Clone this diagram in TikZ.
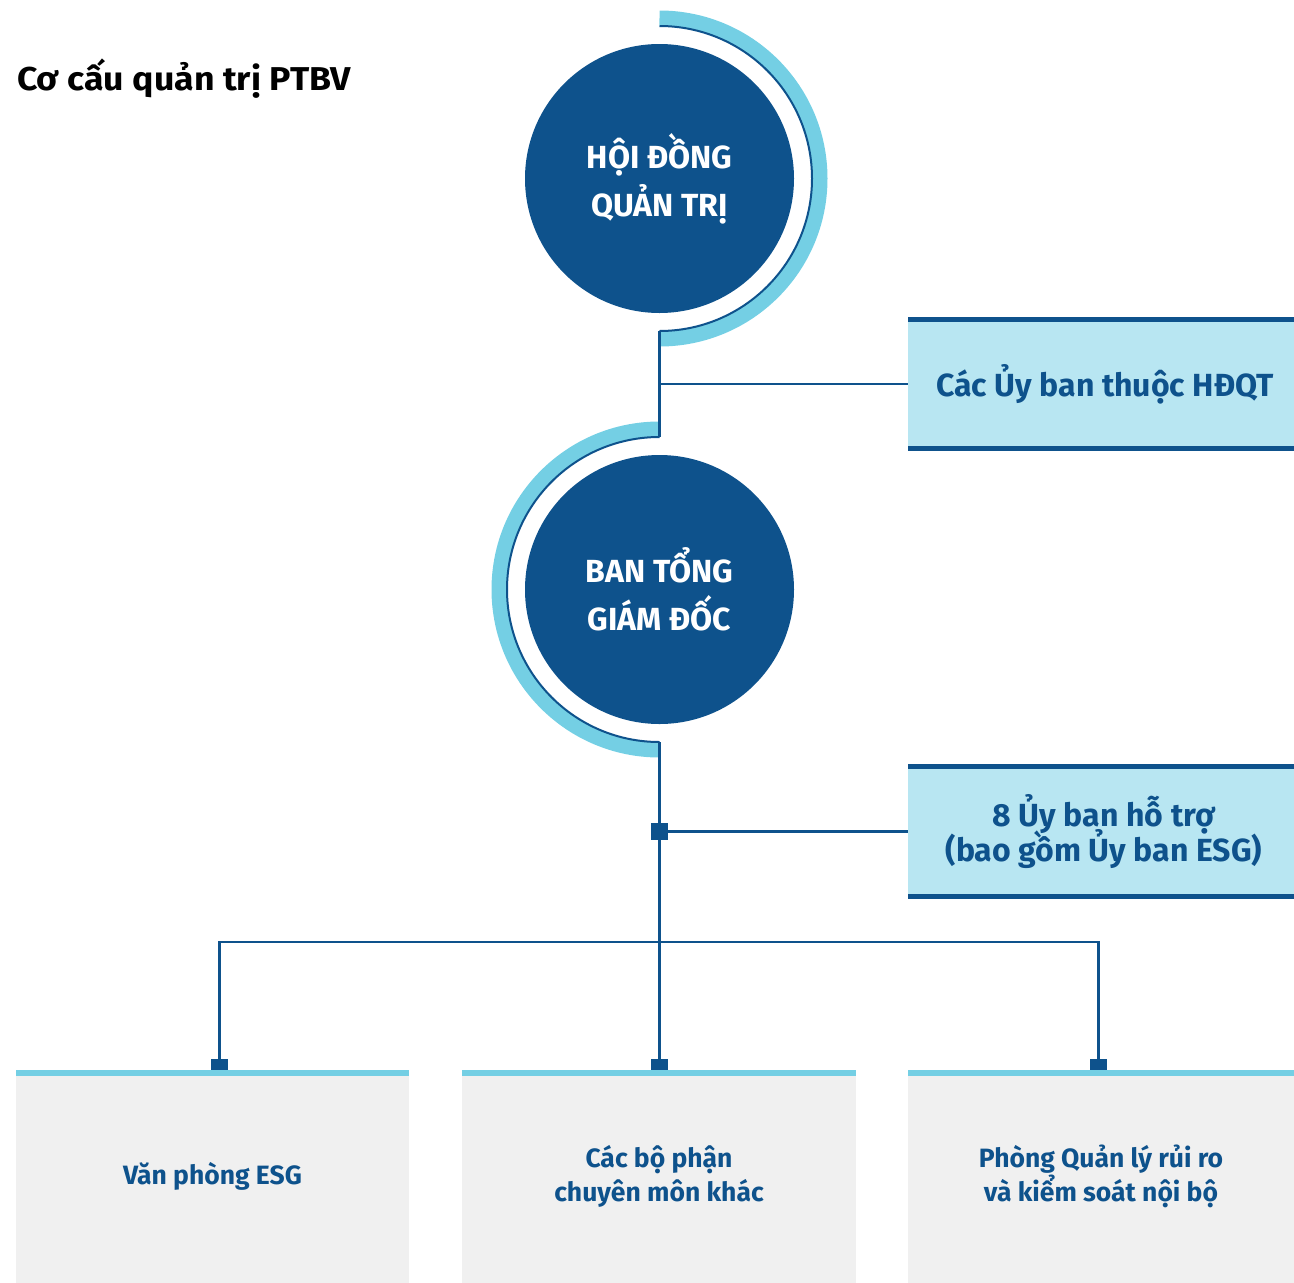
\documentclass[tikz,border=0pt]{standalone}
\usepackage{fontspec}
\usetikzlibrary{calc}
\setmainfont{Fira Sans}
\newfontfamily\condfont[FakeStretch=1.0]{Fira Sans}
\newfontfamily\titlefont[FakeStretch=1.08]{Fira Sans}
\definecolor{dblue}{HTML}{0E528C}
\definecolor{lblue}{HTML}{74CFE4}
\definecolor{boxblue}{HTML}{B8E6F2}
\definecolor{boxgray}{HTML}{F0F0F0}
\begin{document}
\begin{tikzpicture}[x=1pt,y=-1pt,
  conn/.style={draw=dblue, line width=2.4pt},
  circ/.style={circle, fill=dblue, minimum size=269pt, inner sep=0pt, text=white,
    font=\condfont\bfseries\fontsize{32}{48}\selectfont, align=center},
  sidebox/.style={rectangle, fill=boxblue, minimum width=386pt, minimum height=134pt,
    inner sep=0pt, text=dblue, font=\condfont\bfseries\fontsize{32}{37}\selectfont, align=center},
  botbox/.style={rectangle, fill=boxgray, minimum height=213pt, anchor=north, inner sep=0pt,
    text=dblue, font=\condfont\bfseries\fontsize{26.5}{34}\selectfont, align=center},
  junc/.style={rectangle, fill=dblue, minimum width=17pt, minimum height=17pt, inner sep=0pt},
  tab/.style={rectangle, fill=dblue, minimum width=17pt, minimum height=11pt, inner sep=0pt, anchor=south},
  arcband/.style={draw=lblue, line width=15pt},
  arcline/.style={draw=dblue, line width=2pt},
  edgeband/.style={fill=dblue},
  topband/.style={fill=lblue}
]
\useasboundingbox (0,0) rectangle (1294,1283);

% title
\node[anchor=base west, inner sep=0pt, font=\titlefont\bfseries\fontsize{33}{38}\selectfont] (title) at (17,90) {Cơ cấu quản trị PTBV};

% circles
\node[circ] (hdqt) at (659.5,178.5) {HỘI ĐỒNG\\QUẢN TRỊ};
\node[circ] (btgd) at (659.5,589.5) {BAN TỔNG\\GIÁM ĐỐC};

% arcs
\draw[arcband] (hdqt.center) ++(0,-160.5) arc[start angle=-90, end angle=90, radius=160.5];
\draw[arcline] (hdqt.center) ++(0,-152.5) arc[start angle=-90, end angle=90, radius=152.5];
\draw[arcband] (btgd.center) ++(0,160.5) arc[start angle=90, end angle=270, radius=160.5];
\draw[arcline] (btgd.center) ++(0,152.5) arc[start angle=90, end angle=270, radius=152.5];

\coordinate (aEnd) at ($(hdqt.center)+(0,152.5)$);
\coordinate (bStart) at ($(btgd.center)+(0,-152.5)$);
\coordinate (bEnd) at ($(btgd.center)+(0,152.5)$);

% side boxes
\node[sidebox] (ub1) at (1101,384) {\hspace*{8pt}Các Ủy ban thuộc HĐQT};
\fill[edgeband] (ub1.north west) rectangle ([yshift=-5pt]ub1.north east);
\fill[edgeband] (ub1.south west) rectangle ([yshift=5pt]ub1.south east);

\node[sidebox] (ub2) at (1101,831.5) {\hspace*{6pt}8 Ủy ban hỗ trợ\\[-5pt]\hspace*{6pt}(bao gồm Ủy ban ESG)};
\fill[edgeband] (ub2.north west) rectangle ([yshift=-5pt]ub2.north east);
\fill[edgeband] (ub2.south west) rectangle ([yshift=5pt]ub2.south east);

% bottom boxes
\node[botbox, minimum width=393pt] (b1) at (212.5,1070) {Văn phòng ESG};
\node[botbox, minimum width=394pt] (b2) at (659,1070) {Các bộ phận\\chuyên môn khác};
\node[botbox, minimum width=386pt] (b3) at (1101,1070) {Phòng Quản lý rủi ro\\và kiểm soát nội bộ};
\foreach \b in {b1,b2,b3}{
  \fill[topband] (\b.north west) rectangle ([yshift=-5.5pt]\b.north east);
}

% tabs
\node[tab] (t1) at (219.5,1070) {};
\node[tab] (t2) at (659.5,1070) {};
\node[tab] (t3) at (1098.5,1070) {};

% junction
\node[junc] (j) at (659.5,831.5) {};
\coordinate (bus) at (659.5,942);

% connectors
\draw[conn] (aEnd) -- (bStart);
\draw[conn] (ub1.west) -- (ub1.west -| hdqt.center);
\draw[conn] (bEnd) -- (t2.north);
\draw[conn] (j) -- (ub2.west);
\draw[conn] (t1.north) |- (bus) -| (t3.north);
\end{tikzpicture}
\end{document}
